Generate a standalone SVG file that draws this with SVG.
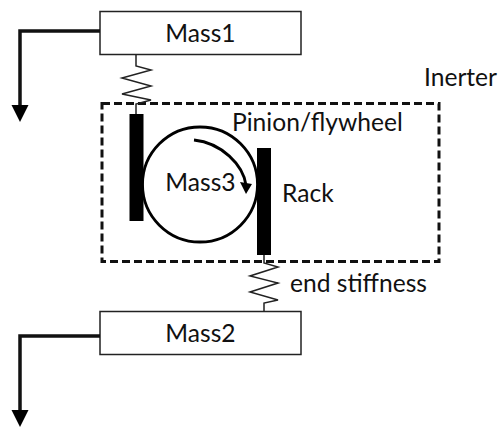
<svg xmlns="http://www.w3.org/2000/svg" width="501" height="428" viewBox="0 0 501 428">
<style>
text{font-family:"Lato","Carlito","Open Sans",sans-serif;font-size:24.600px;fill:#111}
.box{fill:#fff;stroke:#222;stroke-width:1.5}
.spring{fill:none;stroke:#222;stroke-width:1.5}
.force{fill:none;stroke:#111;stroke-width:3.500}
.bar{fill:#000}
</style>
<defs>
<marker id="a" markerUnits="userSpaceOnUse" markerWidth="20" markerHeight="20" refX="0" refY="10" orient="auto"><path d="M0 1.500L17 10L0 18.500Z" fill="#000"/></marker>
</defs>
<rect width="501" height="428" fill="#fff"/>
<g id="inerter"><rect x="102" y="103.500" width="337" height="158" fill="none" stroke="#111" stroke-width="3" stroke-dasharray="8 4"/><text x="424" y="86">Inerter</text></g>
<g id="mass1"><rect class="box" x="100" y="11.500" width="201" height="43"/><text x="200.500" y="41.500" text-anchor="middle">Mass1</text></g>
<g id="mass2"><rect class="box" x="100" y="311.500" width="201" height="43"/><text x="200.500" y="342" text-anchor="middle">Mass2</text></g>
<g id="pinion"><circle cx="200" cy="184.500" r="57.500" fill="none" stroke="#000" stroke-width="2.800"/><text x="232" y="131">Pinion/flywheel</text><text x="200.500" y="190.500" text-anchor="middle">Mass3</text></g>
<g id="rack-left"><rect class="bar" x="129.500" y="114" width="14" height="107"/></g>
<g id="rack-right"><rect class="bar" x="257" y="148" width="14" height="107"/><text x="282" y="202">Rack</text></g>
<g id="end-stiffness"><text x="290" y="292">end stiffness</text></g>
<g id="connectors">
<path class="force" d="M100 31H20V105" marker-end="url(#a)"/>
<path class="force" d="M100 336H20V410" marker-end="url(#a)"/>
<path d="M194 140C222 143 243 165 246 185" fill="none" stroke="#000" stroke-width="2.800"/>
<path d="M240 182L252 184L246 194Z" fill="#000"/>
<path class="spring" d="M136 55V66L151 70L122 78L151 86L122 94L151 100L136 104V114"/>
<path class="spring" d="M264 255V263L278 267L250 276L278 283L250 292L278 300L264 303V311"/>
</g>
</svg>
